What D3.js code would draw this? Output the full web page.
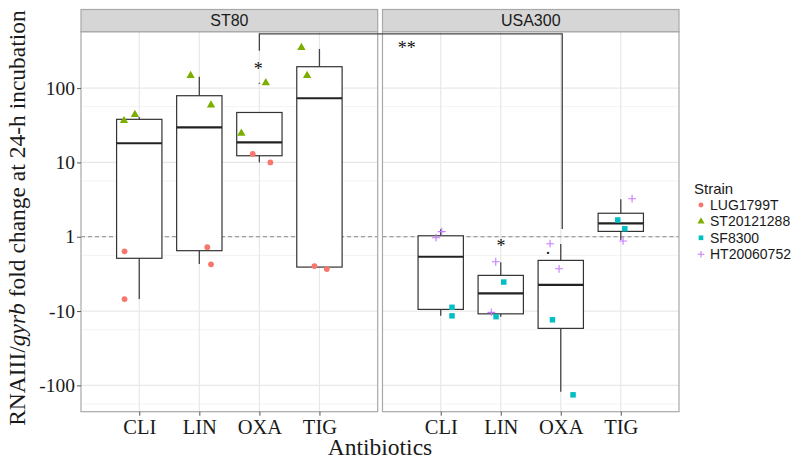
<!DOCTYPE html>
<html>
<head>
<meta charset="utf-8">
<script src="https://cdn.jsdelivr.net/npm/d3@7"></script>
<style>
body { margin: 0; background: #fff; }
svg { display: block; }
</style>
</head>
<body>
<div id="graf"></div>
<script>
const antibiotics = ['CLI', 'LIN', 'OXA', 'TIG']
const panels = ['ST80', 'USA300']
const strains = ['LUG1799T', 'ST20121288', 'SF8300', 'HT20060752']
const yBreaks = [-100, -10, 1, 10, 100]
const yMinorBreaks = [-178, -17.8, -1.78, 5.62, 56.2]
const yLimits = [-226, 574]

// box summaries, fold change, in antibiotics order
const st80Low = [-6.9, -2.33, 10.0, -2.56]
const st80Q1 = [-1.95, -1.54, 12.3, -2.56]
const st80Med = [18.1, 29.7, 18.6, 73]
const st80Q3 = [38, 79, 47, 194]
const st80High = [41, 142, 47, 336]
const st80Outliers = [{ ab: 'OXA', fold: 116 }]

const usaLow = [-11.6, -11.9, -122, -1.11]
const usaQ1 = [-9.5, -10.9, -17.1, 1.18]
const usaMed = [-1.86, -5.78, -4.43, 1.51]
const usaQ3 = [1.03, -3.31, -2.08, 2.07]
const usaHigh = [1.26, -2.21, -1.25, 3.19]
const usaOutliers = []

// points: jit = horizontal jitter in category steps
const st80Points = [
    { ab: 'CLI', strain: 'ST20121288', fold: 36.4, jit: -0.255 },
    { ab: 'CLI', strain: 'ST20121288', fold: 43.9, jit: -0.072 },
    { ab: 'CLI', strain: 'LUG1799T', fold: -1.57, jit: -0.245 },
    { ab: 'CLI', strain: 'LUG1799T', fold: -6.9, jit: -0.245 },
    { ab: 'LIN', strain: 'ST20121288', fold: 147, jit: -0.145 },
    { ab: 'LIN', strain: 'ST20121288', fold: 59.2, jit: 0.195 },
    { ab: 'LIN', strain: 'LUG1799T', fold: -1.38, jit: 0.133 },
    { ab: 'LIN', strain: 'LUG1799T', fold: -2.35, jit: 0.195 },
    { ab: 'OXA', strain: 'ST20121288', fold: 118, jit: 0.107 },
    { ab: 'OXA', strain: 'ST20121288', fold: 24.6, jit: -0.3 },
    { ab: 'OXA', strain: 'LUG1799T', fold: 13.0, jit: -0.11 },
    { ab: 'OXA', strain: 'LUG1799T', fold: 10.0, jit: 0.183 },
    { ab: 'TIG', strain: 'ST20121288', fold: 350, jit: -0.3 },
    { ab: 'TIG', strain: 'ST20121288', fold: 147, jit: -0.205 },
    { ab: 'TIG', strain: 'LUG1799T', fold: -2.48, jit: -0.083 },
    { ab: 'TIG', strain: 'LUG1799T', fold: -2.72, jit: 0.123 },
]
const usaPoints = [
    { ab: 'CLI', strain: 'HT20060752', fold: 1.17, jit: 0.017 },
    { ab: 'CLI', strain: 'HT20060752', fold: -1.03, jit: -0.078 },
    { ab: 'CLI', strain: 'SF8300', fold: -8.9, jit: 0.188 },
    { ab: 'CLI', strain: 'SF8300', fold: -11.6, jit: 0.188 },
    { ab: 'LIN', strain: 'HT20060752', fold: -2.17, jit: -0.083 },
    { ab: 'LIN', strain: 'HT20060752', fold: -10.4, jit: -0.157 },
    { ab: 'LIN', strain: 'SF8300', fold: -4.07, jit: 0.05 },
    { ab: 'LIN', strain: 'SF8300', fold: -11.9, jit: -0.078 },
    { ab: 'OXA', strain: 'HT20060752', fold: -1.24, jit: -0.178 },
    { ab: 'OXA', strain: 'HT20060752', fold: -2.7, jit: -0.028 },
    { ab: 'OXA', strain: 'SF8300', fold: -13.1, jit: -0.138 },
    { ab: 'OXA', strain: 'SF8300', fold: -134, jit: 0.205 },
    { ab: 'TIG', strain: 'HT20060752', fold: 3.25, jit: 0.188 },
    { ab: 'TIG', strain: 'HT20060752', fold: -1.14, jit: 0.038 },
    { ab: 'TIG', strain: 'SF8300', fold: 1.68, jit: -0.05 },
    { ab: 'TIG', strain: 'SF8300', fold: 1.28, jit: 0.067 },
]

const stars = [
    { panel: 'ST80', ab: 'OXA', jit: -0.017, fold: 194, text: '*' },
    { panel: 'USA300', ab: 'LIN', jit: 0.005, fold: -1.23, text: '*' },
    { panel: 'USA300', ab: 'OXA', jit: -0.212, fold: -1.62, text: '.' },
    { panel: 'USA300', ab: 'CLI', jit: -0.567, fold: 369, text: '**' },
]
const bracketTop = 535
const bracketLeft = { panel: 'ST80', ab: 'OXA', fold: 319 }
const bracketRight = { panel: 'USA300', ab: 'OXA', fold: 1.27 }

const colores = {
    LUG1799T: '#F8766D',
    ST20121288: '#7CAE00',
    SF8300: '#00BFC4',
    HT20060752: '#C77CFF',
}
const formas = {
    LUG1799T: 'circle',
    ST20121288: 'triangle',
    SF8300: 'square',
    HT20060752: 'plus',
}

const serif = '"Liberation Serif", "Times New Roman", serif'
const sans = '"Liberation Sans", Arial, sans-serif'

const ancho = 809
const alto = 461
const panelTop = 31.7
const panelBottom = 411.7
const stripTop = 9.5
const panelX = { ST80: [81, 377.7], USA300: [382.5, 679] }

const tr = v => Math.sign(v) * Math.log10(Math.abs(v))

const svg = d3.select('#graf').append('svg')
    .attr('width', ancho)
    .attr('height', alto)

const y = d3.scaleLinear()
    .domain(yLimits.map(tr))
    .range([panelBottom, panelTop])

const xs = {}
panels.forEach(p => {
    xs[p] = d3.scalePoint()
        .domain(antibiotics)
        .range(panelX[p])
        .padding(0.97)
})

const boxes = {
    ST80: antibiotics.map((ab, i) => ({ ab, low: st80Low[i], q1: st80Q1[i], med: st80Med[i], q3: st80Q3[i], high: st80High[i] })),
    USA300: antibiotics.map((ab, i) => ({ ab, low: usaLow[i], q1: usaQ1[i], med: usaMed[i], q3: usaQ3[i], high: usaHigh[i] })),
}
const points = { ST80: st80Points, USA300: usaPoints }
const outliers = { ST80: st80Outliers, USA300: usaOutliers }

const drawShape = (sel, forma, color, s) => {
    if (forma === 'circle') {
        sel.append('circle').attr('r', 2.9 * s).attr('fill', color)
    } else if (forma === 'triangle') {
        sel.append('path').attr('d', d3.symbol(d3.symbolTriangle, 30 * s * s)()).attr('fill', color)
    } else if (forma === 'square') {
        sel.append('path').attr('d', d3.symbol(d3.symbolSquare, 30 * s * s)()).attr('fill', color)
    } else {
        const h = 3.9 * s
        sel.append('path')
            .attr('d', `M${-h},0H${h}M0,${-h}V${h}`)
            .attr('stroke', color)
            .attr('stroke-width', 1.1)
            .attr('fill', 'none')
    }
}

panels.forEach(p => {
    const x = xs[p]
    const [x0, x1] = panelX[p]
    const paso = x.step()
    const g = svg.append('g')

    // panel background and grid
    g.append('rect')
        .attr('x', x0).attr('y', panelTop)
        .attr('width', x1 - x0).attr('height', panelBottom - panelTop)
        .attr('fill', '#fff')

    g.selectAll('.minor')
        .data(yMinorBreaks)
        .enter()
        .append('line')
        .attr('x1', x0).attr('x2', x1)
        .attr('y1', d => y(tr(d))).attr('y2', d => y(tr(d)))
        .attr('stroke', '#f3f3f3')
        .attr('stroke-width', 1)

    g.selectAll('.major')
        .data(yBreaks)
        .enter()
        .append('line')
        .attr('x1', x0).attr('x2', x1)
        .attr('y1', d => y(tr(d))).attr('y2', d => y(tr(d)))
        .attr('stroke', '#e8e8e8')
        .attr('stroke-width', 1.2)

    g.selectAll('.vgrid')
        .data(antibiotics)
        .enter()
        .append('line')
        .attr('x1', d => x(d)).attr('x2', d => x(d))
        .attr('y1', panelTop).attr('y2', panelBottom)
        .attr('stroke', '#e8e8e8')
        .attr('stroke-width', 1.2)

    // reference line at 1
    g.append('line')
        .attr('x1', x0).attr('x2', x1)
        .attr('y1', y(0)).attr('y2', y(0))
        .attr('stroke', '#8a8a8a')
        .attr('stroke-width', 1)
        .attr('stroke-dasharray', '4,3')

    // boxplots
    const bw = paso * 0.755
    const bx = g.selectAll('.box')
        .data(boxes[p])
        .enter()
        .append('g')

    bx.append('line')
        .attr('x1', d => x(d.ab)).attr('x2', d => x(d.ab))
        .attr('y1', d => y(tr(d.high))).attr('y2', d => y(tr(d.q3)))
        .attr('stroke', '#444').attr('stroke-width', 1.3)
    bx.append('line')
        .attr('x1', d => x(d.ab)).attr('x2', d => x(d.ab))
        .attr('y1', d => y(tr(d.q1))).attr('y2', d => y(tr(d.low)))
        .attr('stroke', '#444').attr('stroke-width', 1.3)
    bx.append('rect')
        .attr('x', d => x(d.ab) - bw / 2)
        .attr('y', d => y(tr(d.q3)))
        .attr('width', bw)
        .attr('height', d => y(tr(d.q1)) - y(tr(d.q3)))
        .attr('fill', '#fff')
        .attr('stroke', '#333')
        .attr('stroke-width', 1.2)
    bx.append('line')
        .attr('x1', d => x(d.ab) - bw / 2).attr('x2', d => x(d.ab) + bw / 2)
        .attr('y1', d => y(tr(d.med))).attr('y2', d => y(tr(d.med)))
        .attr('stroke', '#222').attr('stroke-width', 2.2)

    g.selectAll('.out')
        .data(outliers[p])
        .enter()
        .append('circle')
        .attr('cx', d => x(d.ab))
        .attr('cy', d => y(tr(d.fold)))
        .attr('r', 0.9)
        .attr('fill', '#777')

    // points
    g.selectAll('.pt')
        .data(points[p])
        .enter()
        .append('g')
        .attr('transform', d => `translate(${x(d.ab) + d.jit * paso},${y(tr(d.fold))})`)
        .each(function (d) { drawShape(d3.select(this), formas[d.strain], colores[d.strain], 1) })

    // panel border
    g.append('rect')
        .attr('x', x0).attr('y', panelTop)
        .attr('width', x1 - x0).attr('height', panelBottom - panelTop)
        .attr('fill', 'none')
        .attr('stroke', '#a8a8a8')
        .attr('stroke-width', 1.2)

    // strip
    g.append('rect')
        .attr('x', x0).attr('y', stripTop)
        .attr('width', x1 - x0).attr('height', panelTop - stripTop)
        .attr('fill', '#d6d6d6')
        .attr('stroke', '#a8a8a8')
        .attr('stroke-width', 1.2)
    g.append('text')
        .attr('x', (x0 + x1) / 2)
        .attr('y', (stripTop + panelTop) / 2 + 5.8)
        .attr('text-anchor', 'middle')
        .attr('font-family', sans)
        .attr('font-size', 16)
        .attr('fill', '#1a1a1a')
        .text(p)

    // x axis
    const ax = g.append('g')
        .attr('transform', `translate(0,${panelBottom})`)
        .call(d3.axisBottom(x).tickSize(4).tickSizeOuter(0).tickPadding(4))
    ax.select('.domain').remove()
    ax.selectAll('line').attr('stroke', '#555')
    ax.selectAll('text')
        .attr('font-family', serif)
        .attr('font-size', 20.5)
        .attr('fill', '#1a1a1a')
        .attr('dy', '0.71em')
})

// y axis
const ay = svg.append('g')
    .attr('transform', `translate(${panelX.ST80[0]},0)`)
    .call(d3.axisLeft(y)
        .tickValues(yBreaks.map(tr))
        .tickFormat((d, i) => yBreaks[i])
        .tickSize(4)
        .tickSizeOuter(0)
        .tickPadding(2))
ay.select('.domain').remove()
ay.selectAll('line').attr('stroke', '#555')
ay.selectAll('text')
    .attr('font-family', serif)
    .attr('font-size', 19.5)
    .attr('fill', '#1a1a1a')

// significance marks
svg.selectAll('.star')
    .data(stars)
    .enter()
    .append('text')
    .attr('x', d => xs[d.panel](d.ab) + d.jit * xs[d.panel].step())
    .attr('y', d => y(tr(d.fold)) + (d.text === '.' ? 1.5 : 8.5))
    .attr('text-anchor', 'middle')
    .attr('font-family', serif)
    .attr('font-size', 18)
    .attr('fill', '#111')
    .text(d => d.text)

const bxL = xs[bracketLeft.panel](bracketLeft.ab)
const bxR = xs[bracketRight.panel](bracketRight.ab) + 1.5
svg.append('path')
    .attr('d', `M${bxL},${y(tr(bracketLeft.fold))}V${y(tr(bracketTop))}H${bxR}V${y(tr(bracketRight.fold))}`)
    .attr('fill', 'none')
    .attr('stroke', '#444')
    .attr('stroke-width', 1.3)

// axis titles
svg.append('text')
    .attr('x', (panelX.ST80[0] + panelX.USA300[1]) / 2)
    .attr('y', 455)
    .attr('text-anchor', 'middle')
    .attr('font-family', serif)
    .attr('font-size', 23.5)
    .attr('fill', '#1a1a1a')
    .text('Antibiotics')

const yt = svg.append('text')
    .attr('transform', 'translate(25,218) rotate(-90)')
    .attr('text-anchor', 'middle')
    .attr('font-family', serif)
    .attr('font-size', 23.5)
    .attr('fill', '#1a1a1a')
yt.append('tspan').text('RNAIII/')
yt.append('tspan').attr('font-style', 'italic').text('gyrb')
yt.append('tspan').text(' fold change at 24-h incubation')

// legend
const leg = svg.append('g').attr('transform', 'translate(694,0)')
leg.append('text')
    .attr('x', 0).attr('y', 194)
    .attr('font-family', sans)
    .attr('font-size', 15)
    .attr('fill', '#1a1a1a')
    .text('Strain')
const item = leg.selectAll('.item')
    .data(strains)
    .enter()
    .append('g')
    .attr('transform', (d, i) => `translate(0,${205 + i * 16.4})`)
item.append('g')
    .attr('transform', 'translate(7,0)')
    .each(function (d) { drawShape(d3.select(this), formas[d], colores[d], 0.85) })
item.append('text')
    .attr('x', 16)
    .attr('y', 5)
    .attr('font-family', sans)
    .attr('font-size', 14)
    .attr('fill', '#1a1a1a')
    .text(d => d)
</script>
</body>
</html>
